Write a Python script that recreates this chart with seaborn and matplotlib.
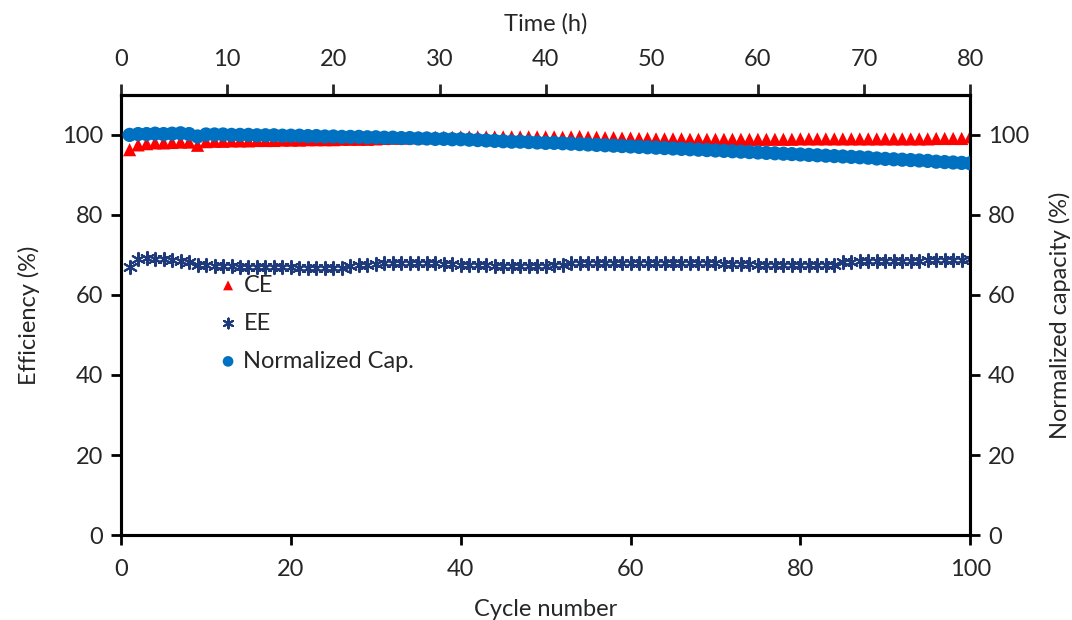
import numpy as np
import pandas as pd
import matplotlib
matplotlib.use("Agg")
import matplotlib.pyplot as plt
import seaborn as sns

cycles = list(range(1, 101))

ce = [96.3, 97.5, 97.8, 98.0, 98.0, 98.1, 98.2, 98.2, 97.4, 98.3,
      98.4, 98.4, 98.5, 98.5, 98.5, 98.6, 98.6, 98.6, 98.7, 98.7,
      98.7, 98.8, 98.8, 98.8, 98.8, 98.9, 98.9, 98.9, 98.9, 99.0,
      99.1, 99.2, 99.2, 99.3, 99.3, 99.3, 99.4, 99.4, 99.4, 99.5,
      99.5, 99.5, 99.5, 99.5, 99.5, 99.5, 99.5, 99.5, 99.5, 99.5,
      99.5, 99.4, 99.5, 99.6, 99.4, 99.4, 99.3, 99.3, 99.2, 99.2,
      99.1, 99.1, 99.0, 99.0, 99.0, 99.0, 98.9, 98.9, 98.9, 98.9,
      98.9, 98.9, 98.9, 98.9, 98.9, 98.9, 98.9, 98.9, 98.9, 99.0,
      99.0, 99.0, 99.0, 99.0, 99.0, 99.0, 99.0, 99.0, 99.0, 99.0,
      99.0, 99.0, 99.0, 99.0, 99.0, 99.1, 99.1, 99.1, 99.1, 99.5]

ee = [67.0, 69.0, 69.2, 69.0, 69.0, 68.8, 68.5, 68.3, 67.5, 67.5,
      67.3, 67.2, 67.2, 67.0, 67.0, 67.0, 67.0, 66.9, 66.9, 66.9,
      66.8, 66.8, 66.8, 66.8, 66.7, 66.8, 67.2, 67.4, 67.5, 67.8,
      68.0, 68.0, 68.0, 68.0, 68.0, 67.9, 67.9, 67.8, 67.7, 67.6,
      67.5, 67.4, 67.4, 67.3, 67.3, 67.3, 67.3, 67.3, 67.3, 67.3,
      67.4, 67.6, 67.9, 68.0, 68.0, 68.0, 68.0, 68.0, 68.0, 68.0,
      68.0, 68.0, 68.0, 68.0, 68.0, 68.0, 68.0, 68.0, 67.9, 67.9,
      67.8, 67.8, 67.7, 67.7, 67.6, 67.6, 67.6, 67.5, 67.5, 67.5,
      67.5, 67.5, 67.5, 67.6, 68.2, 68.3, 68.4, 68.5, 68.6, 68.6,
      68.6, 68.6, 68.6, 68.6, 68.7, 68.7, 68.8, 68.8, 68.8, 69.0]

norm_cap = [100.0, 100.2, 100.2, 100.3, 100.2, 100.3, 100.4, 100.2, 99.6, 100.1,
            100.1, 100.1, 100.0, 100.0, 100.0, 99.9, 99.9, 99.9, 99.8, 99.8,
            99.8, 99.7, 99.7, 99.6, 99.6, 99.5, 99.5, 99.5, 99.4, 99.4,
            99.3, 99.3, 99.2, 99.2, 99.1, 99.1, 99.0, 99.0, 98.9, 98.9,
            98.8, 98.7, 98.6, 98.5, 98.4, 98.3, 98.3, 98.2, 98.1, 98.0,
            98.0, 97.9, 97.8, 97.7, 97.6, 97.5, 97.4, 97.3, 97.2, 97.1,
            97.0, 96.9, 96.8, 96.7, 96.6, 96.5, 96.4, 96.3, 96.2, 96.1,
            96.0, 95.9, 95.8, 95.7, 95.6, 95.5, 95.4, 95.3, 95.2, 95.1,
            95.0, 94.9, 94.8, 94.7, 94.6, 94.5, 94.4, 94.3, 94.1, 94.0,
            93.9, 93.8, 93.7, 93.6, 93.5, 93.3, 93.2, 93.1, 93.0, 92.9]

hours_per_cycle = 0.8

df = pd.DataFrame({"cycle": cycles, "CE": ce, "EE": ee, "cap": norm_cap})

sns.set_style("white")
plt.rcParams["font.family"] = ["Lato", "DejaVu Sans"]
fs = 17

fig = plt.figure(figsize=(10.72, 6.2), dpi=100)
ax = fig.add_axes([0.113, 0.137, 0.792, 0.710])

sns.scatterplot(data=df, x="cycle", y="CE", ax=ax, marker="^", color="#FF0000",
                s=90, edgecolor="none", label="CE", legend=False, zorder=3)
sns.scatterplot(data=df, x="cycle", y="EE", ax=ax, marker=(6, 2, 0), color="#1F3A7A",
                s=90, linewidth=1.5, label="EE", legend=False, zorder=3)

ax2 = ax.twinx()
sns.scatterplot(data=df, x="cycle", y="cap", ax=ax2, marker="o", color="#0070C0",
                s=105, edgecolor="none", label="Normalized Cap.", legend=False, zorder=3)

ax.set_xlim(0, 100)
ax.set_ylim(0, 110)
ax2.set_ylim(0, 110)
ax.set_xticks(range(0, 101, 20))
ax.set_yticks(range(0, 101, 20))
ax2.set_yticks(range(0, 101, 20))

ax.set_xlabel("Cycle number", fontsize=fs, labelpad=14)
ax.set_ylabel("Efficiency (%)", fontsize=fs, labelpad=16)
ax2.set_ylabel("Normalized capacity (%)", fontsize=fs, labelpad=14)

top = ax.secondary_xaxis("top", functions=(lambda c: c * hours_per_cycle,
                                           lambda t: t / hours_per_cycle))
top.set_xticks(range(0, 81, 10))
top.set_xlabel("Time (h)", fontsize=fs, labelpad=13)

for a in (ax, ax2):
    for sp in a.spines.values():
        sp.set_linewidth(2.2)
        sp.set_color("black")
    a.tick_params(direction="out", length=7, width=2, labelsize=fs, color="black", pad=6)
top.spines["top"].set_linewidth(2.2)
top.tick_params(direction="out", length=8, width=2, labelsize=fs, pad=10)
ax.tick_params(axis="x", bottom=True, pad=10)
ax.tick_params(axis="y", left=True)
ax2.tick_params(axis="y", right=True)

handles = ax.get_legend_handles_labels()[0] + ax2.get_legend_handles_labels()[0]
labels = ["CE", "EE", "Normalized Cap."]
ax.legend(handles, labels, loc="upper left", bbox_to_anchor=(0.087, 0.64),
          frameon=False, fontsize=fs, handletextpad=0.15, handlelength=1.0,
          labelspacing=0.72, markerscale=0.75)

fig.savefig("out.png", dpi=100)
